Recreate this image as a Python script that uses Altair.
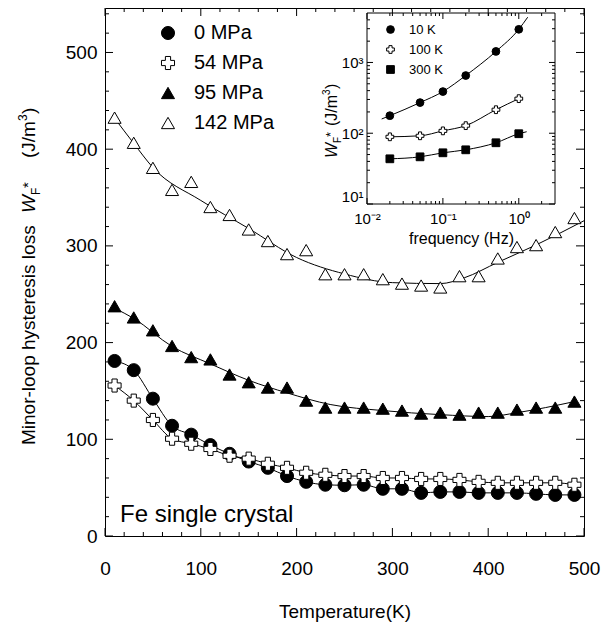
import altair as alt
import pandas as pd

FONT = "Liberation Sans"

# ---------------- main panel data ----------------
temps = [10, 30, 50, 70, 90, 110, 130, 150, 170, 190, 210, 230, 250,
         270, 290, 310, 330, 350, 370, 390, 410, 430, 450, 470, 490]
w_0 = [181, 171.5, 142, 114, 104.8, 94, 85, 77, 70.5, 62, 56, 53, 52.5,
       53, 48.8, 48.8, 44.6, 45.6, 45.6, 44.6, 44.6, 44.6, 43.6, 42.5, 42.5]
w_54 = [155.6, 140, 120, 100.6, 95.4, 90, 83, 80, 74.7, 70.5, 65.4, 63.3, 62,
        62, 60, 60, 59, 59, 58, 56, 55, 55, 55, 55, 53]
w_95 = [237.6, 226, 212.7, 196.5, 185, 182.6, 167, 159, 153.5, 153.5, 140, 132.8, 132.8,
        132.8, 131.7, 129.7, 126.6, 127.6, 125.5, 127.6, 127.6, 130.7, 132.8, 132.8, 139]
w_142 = [432.6, 406.6, 380.7, 357.9, 366.2, 340.2, 332, 317, 305, 291.5, 295.6, 270.7, 270.7,
         270.7, 265.6, 261, 259, 257, 268.7, 268.7, 287, 298.8, 300.8, 314.3, 328.8]

# fitted curves
fit95_t = [10, 30, 70, 110, 150, 190, 235, 290, 350, 400, 430, 490]
fit95_w = [235.5, 225, 196, 178, 161, 148, 136, 129.7, 125.5, 123.5, 127.5, 139]
fit142_t = [10, 30, 50, 100, 150, 200, 250, 300, 350, 375, 410, 450, 500]
fit142_w = [432, 406, 381, 347, 318, 288, 271, 262, 261, 267, 283, 301, 326]

pressures = ["0 MPa", "54 MPa", "95 MPa", "142 MPa"]

# ---------------- inset data ----------------
freqs = [0.02, 0.05, 0.1, 0.2, 0.5, 1.0]
w_10K = [177, 271, 388, 654, 1432, 2940]
w_100K = [89, 92, 108, 128, 215, 308]
w_300K = [43.5, 46.4, 52.9, 58.3, 73.3, 98.4]
fit10_f = [0.0156, 0.02, 0.05, 0.1, 0.2, 0.5, 1.0, 1.31]
fit10_w = [159, 177, 271, 388, 654, 1432, 2940, 4360]
fit300_f = [0.02, 0.05, 0.1, 0.2, 0.5, 1.0, 1.27]
fit300_w = [43.5, 46.4, 52.9, 58.3, 73.3, 98.4, 105]
temp_labels = ["10 K", "100 K", "300 K"]

# tick values
mx_major = [0, 100, 200, 300, 400, 500]
mx_minor = [v for v in range(20, 500, 20) if v % 100]
my_major = [0, 100, 200, 300, 400, 500]
my_minor = [v for v in range(20, 545, 20) if v % 100]
ix_major = [0.01, 0.1, 1]
ix_minor = [0.02, 0.03, 0.04, 0.05, 0.06, 0.07, 0.08, 0.09,
            0.2, 0.3, 0.4, 0.5, 0.6, 0.7, 0.8, 0.9, 2]
iy_major = [10, 100, 1000]
iy_minor = [20, 30, 40, 50, 60, 70, 80, 90, 200, 300, 400, 500, 600, 700, 800, 900,
            2000, 3000, 4000]

W, H = 479, 528

xs = alt.Scale(domain=[0, 500], nice=False, zero=False)
ys = alt.Scale(domain=[0, 546], nice=False, zero=False)
fx = alt.Scale(type="log", domain=[0.01, 3], range=[262, 450], nice=False)
fy = alt.Scale(type="log", domain=[10, 5000], range=[196, 5], nice=False)

# ---------------- data frames ----------------
df_pts = pd.concat([
    pd.DataFrame({"T": temps, "W": w, "p": p})
    for w, p in zip([w_0, w_54, w_95, w_142], pressures)
])
df_lines = pd.concat([
    pd.DataFrame({"T": temps, "W": w_0, "s": "a"}),
    pd.DataFrame({"T": temps, "W": w_54, "s": "b"}),
    pd.DataFrame({"T": fit95_t, "W": fit95_w, "s": "c"}),
    pd.DataFrame({"T": fit142_t, "W": fit142_w, "s": "d"}),
])
df_ipts = pd.concat([
    pd.DataFrame({"f": freqs, "W": w, "k": k})
    for w, k in zip([w_10K, w_100K, w_300K], temp_labels)
])
df_ilines = pd.concat([
    pd.DataFrame({"f": fit10_f, "W": fit10_w, "s": "a"}),
    pd.DataFrame({"f": freqs, "W": w_100K, "s": "b"}),
    pd.DataFrame({"f": fit300_f, "W": fit300_w, "s": "c"}),
])

# ---------------- layers ----------------
main_lines = alt.Chart(df_lines).mark_line(
    color="black", strokeWidth=1, interpolate="monotone"
).encode(
    x=alt.X("T:Q", scale=xs, axis=alt.Axis(
        values=mx_major, ticks=False, domain=False, grid=False, labelPadding=23,
        labelFlush=False, labelFontSize=19, title="Temperature(K)", titleFontSize=19,
        titleFontWeight="normal", titlePadding=24)),
    y=alt.Y("W:Q", scale=ys, axis=alt.Axis(
        values=my_major, ticks=False, domain=False, grid=False, labelPadding=8,
        labelFlush=False, labelFontSize=19, title=None)),
    detail="s:N",
)

main_leg = alt.Legend(orient="none", legendX=53, legendY=15, title=None,
                      labelFontSize=20, labelFont=FONT, labelColor="black",
                      symbolSize=170, symbolStrokeWidth=1,
                      rowPadding=10, labelOffset=16, padding=0)
main_pts = alt.Chart(df_pts).mark_point(
    filled=True, strokeWidth=1, size=170, opacity=1
).encode(
    x=alt.X("T:Q", scale=xs, axis=None),
    y=alt.Y("W:Q", scale=ys, axis=None),
    shape=alt.Shape("p:N", scale=alt.Scale(
        domain=pressures, range=["circle", "cross", "triangle-up", "triangle-up"]),
        legend=main_leg),
    fill=alt.Fill("p:N", scale=alt.Scale(
        domain=pressures, range=["black", "white", "black", "white"]),
        legend=main_leg),
    stroke=alt.Stroke("p:N", scale=alt.Scale(
        domain=pressures, range=["black", "black", "black", "black"]),
        legend=main_leg),
)

inset_frame = alt.Chart(pd.DataFrame({"x1": [0.01], "x2": [3], "y1": [10], "y2": [5000]})).mark_rect(
    fill="white", stroke="black", strokeWidth=1
).encode(
    x=alt.X("x1:Q", scale=fx, axis=None), x2="x2:Q",
    y=alt.Y("y1:Q", scale=fy, axis=None), y2="y2:Q",
)

inset_lines = alt.Chart(df_ilines).mark_line(
    color="black", strokeWidth=1, interpolate="monotone"
).encode(
    x=alt.X("f:Q", scale=fx, axis=alt.Axis(
        orient="bottom", offset=-(H - 196), values=ix_major, ticks=False, domain=False,
        grid=False, labelFontSize=15, labelPadding=7, labelFlush=False,
        labelExpr="datum.value < 0.05 ? '10⁻²' : datum.value < 0.5 ? '10⁻¹' : '10⁰'",
        title="frequency (Hz)", titleFontSize=16, titleFontWeight="normal", titlePadding=4)),
    y=alt.Y("W:Q", scale=fy, axis=alt.Axis(
        orient="left", offset=-262, values=iy_major, ticks=False, domain=False,
        grid=False, labelFontSize=15, labelPadding=4, labelFlush=True,
        labelExpr="datum.value < 50 ? '10¹' : datum.value < 500 ? '10²' : '10³'",
        title=None)),
    detail="s:N",
)

inset_leg = alt.Legend(orient="none", legendX=279, legendY=15, title=None,
                       labelFontSize=13, labelFont=FONT, labelColor="black",
                       symbolSize=60, symbolStrokeWidth=1,
                       rowPadding=6, labelOffset=12, padding=0)
inset_pts = alt.Chart(df_ipts).mark_point(
    filled=True, strokeWidth=1, size=60, opacity=1
).encode(
    x=alt.X("f:Q", scale=fx, axis=None),
    y=alt.Y("W:Q", scale=fy, axis=None),
    shape=alt.Shape("k:N", scale=alt.Scale(
        domain=temp_labels, range=["circle", "cross", "square"]), legend=inset_leg),
    fill=alt.Fill("k:N", scale=alt.Scale(
        domain=temp_labels, range=["black", "white", "black"]), legend=inset_leg),
    stroke=alt.Stroke("k:N", scale=alt.Scale(
        domain=temp_labels, range=["black", "black", "black"]), legend=inset_leg),
)


def hticks(vals, scale, y0, y1):
    return alt.Chart(pd.DataFrame({"v": vals})).mark_rule(color="black", strokeWidth=1).encode(
        x=alt.X("v:Q", scale=scale, axis=None), y=alt.value(y0), y2=alt.value(y1))


def vticks(vals, scale, x0, x1):
    return alt.Chart(pd.DataFrame({"v": vals})).mark_rule(color="black", strokeWidth=1).encode(
        y=alt.Y("v:Q", scale=scale, axis=None), x=alt.value(x0), x2=alt.value(x1))


def txt(s, x, y, size, angle=0, style="normal", align="left"):
    return alt.Chart(pd.DataFrame({"t": [s]})).mark_text(
        font=FONT, fontSize=size, angle=angle, fontStyle=style, align=align,
        baseline="alphabetic", color="black"
    ).encode(text="t:N", x=alt.value(x), y=alt.value(y))


ticks = [
    hticks(mx_major, xs, H, H - 8), hticks(mx_minor, xs, H, H - 4),
    hticks(mx_major, xs, 0, 8), hticks(mx_minor, xs, 0, 4),
    vticks(my_major, ys, 0, 8), vticks(my_minor, ys, 0, 4),
    vticks(my_major, ys, W, W - 8), vticks(my_minor, ys, W, W - 4),
    hticks(ix_major, fx, 196, 190), hticks(ix_minor, fx, 196, 193),
    hticks(ix_major, fx, 5, 11), hticks(ix_minor, fx, 5, 8),
    vticks(iy_major, fy, 262, 268), vticks(iy_minor, fy, 262, 265),
    vticks(iy_major, fy, 450, 444), vticks(iy_minor, fy, 450, 447),
]

texts = [
    txt("Fe single crystal", 15, 514, 24),
    # main y title
    txt("Minor-loop hysteresis loss", -70, 437, 19, angle=270),
    txt("W", -70, 205, 19, angle=270, style="italic"),
    txt("F", -65, 187, 12, angle=270),
    txt("*", -72, 180, 15, angle=270),
    txt("(J/m", -70, 150, 19, angle=270),
    txt("3", -78, 113, 12, angle=270),
    txt(")", -70, 106, 19, angle=270),
    # inset y title
    txt("W", 232, 150, 16, angle=270, style="italic"),
    txt("F", 236, 135, 10, angle=270),
    txt("*", 230, 129, 13, angle=270),
    txt("(J/m", 232, 118, 16, angle=270),
    txt("3", 225, 87, 10, angle=270),
    txt(")", 232, 81, 16, angle=270),
]

chart = alt.layer(
    main_lines, main_pts, inset_frame, inset_lines, inset_pts, *ticks, *texts
).properties(
    width=W, height=H, autosize="none",
    padding={"left": 97, "top": 0, "right": 20, "bottom": 92},
).resolve_scale(
    x="independent", y="independent", shape="independent", fill="independent",
    stroke="independent"
).configure_view(
    stroke="black", strokeWidth=1
).configure_axis(
    labelFont=FONT, titleFont=FONT, labelColor="black", titleColor="black"
)

chart.save("out.html", embed_options={"renderer": "svg", "actions": False})
